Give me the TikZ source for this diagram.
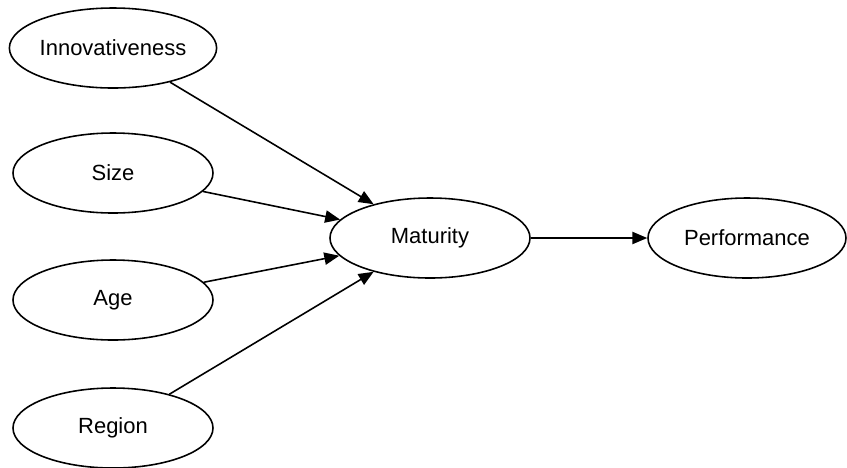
\documentclass[tikz,border=0pt]{standalone}
\usepackage{fontspec}
\setmainfont{Liberation Sans}
\usetikzlibrary{arrows.meta, shapes.geometric}

\begin{document}
\begin{tikzpicture}[
    >={Triangle[length=8.5pt, width=7pt]},
    font=\fontsize{12.5}{15}\selectfont,
    construct/.style={draw, ellipse, line width=0.9pt, inner sep=0pt, minimum width=4cm, minimum height=1.6cm},
    path/.style={->, line width=0.9pt}
]
\useasboundingbox (0,0) rectangle (16.94,-9.34);

% Antecedents
\node[construct] (innov)  at (2.26, -0.96) {Innovativeness};
\node[construct] (size)   at (2.26, -3.46) {Size};
\node[construct] (age)    at (2.26, -6.00) {Age};
\node[construct] (region) at (2.26, -8.56) {Region};

% Mediator and outcome
\node[construct] (maturity) at (8.60, -4.76)  {Maturity};
\node[construct, minimum width=3.96cm] (perf) at (14.94, -4.76) {Performance};

\draw[path] (innov) -- (maturity);
\draw[path] (size) -- (maturity);
\draw[path] (age) -- (maturity);
\draw[path] (region) -- (maturity);
\draw[path] (maturity) -- (perf);

\end{tikzpicture}
\end{document}
